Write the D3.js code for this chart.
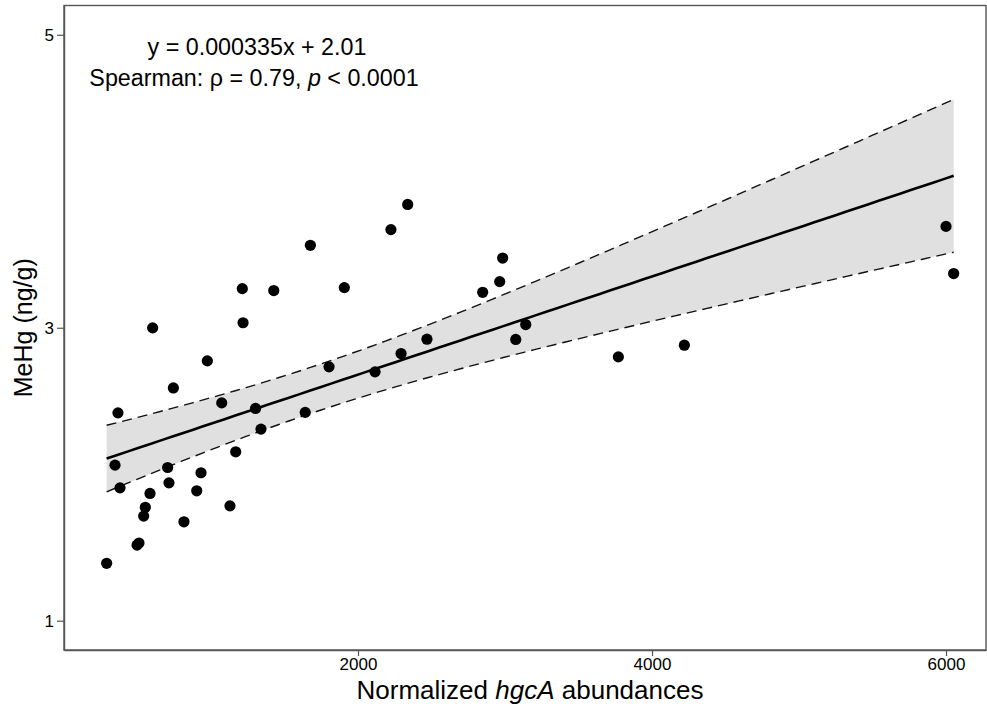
<!DOCTYPE html>
<html><head><meta charset="utf-8">
<script src="https://cdn.jsdelivr.net/npm/d3@7"></script>
<style>body{margin:0;background:#fff}svg{display:block}</style>
</head><body>
<svg id="c" width="987" height="708"></svg>
<script>
// Normalized hgcA abundances (x) and MeHg ng/g (y)
const hgcA = [290, 347, 367, 381, 497, 510, 542, 553, 585, 603,
  705, 714, 744, 816, 903, 932, 975, 1073, 1129, 1168,
  1218, 1213, 1303, 1340, 1427, 1641, 1676, 1803, 1907, 2116,
  2224, 2293, 2338, 2469, 2848, 2964, 2984, 3073, 3141, 3771,
  4220, 6000, 6052];
const mehg = [1.392, 2.062, 2.419, 1.907, 1.516, 1.530, 1.714, 1.774, 1.869, 2.999,
  2.046, 1.941, 2.589, 1.675, 1.887, 2.010, 2.774, 2.487, 1.784, 2.153,
  3.034, 3.267, 2.449, 2.308, 3.254, 2.422, 3.563, 2.733, 3.274, 2.699,
  3.670, 2.824, 3.842, 2.922, 3.242, 3.315, 3.476, 2.920, 3.022, 2.801,
  2.881, 3.692, 3.370];
const xTicks = [2000, 4000, 6000];
const yTicks = [1, 3, 5];
const fitCoef = [0.000335, 2.01]; // slope, intercept
const annotation = ["y = 0.000335x + 2.01"];
const xTitle = ["Normalized ", "hgcA", " abundances"];
const yTitle = "MeHg (ng/g)";

const svg = d3.select("#c");
const font = "'Liberation Sans', Arial, Helvetica, sans-serif";
const L = 64, R = 986, T = 5.5, B = 650;
const x = d3.scaleLinear().domain([0, 6272]).range([L, R]);
const y = d3.scaleLinear().domain([0.8, 5.2]).range([B, T]);

// regression + confidence band (95%)
const n = hgcA.length;
const xbar = d3.mean(hgcA);
const Sxx = d3.sum(hgcA, v => (v - xbar) ** 2);
const pred = v => fitCoef[0] * v + fitCoef[1];
const s = Math.sqrt(d3.sum(hgcA.map((v, i) => (mehg[i] - pred(v)) ** 2)) / (n - 2));
const tq = 2.0195;
const [xmin, xmax] = d3.extent(hgcA);
const grid = d3.range(80).map(i => xmin + (xmax - xmin) * i / 79);
const band = grid.map(v => {
  const hw = tq * s * Math.sqrt(1 / n + (v - xbar) ** 2 / Sxx);
  return {x: v, y: pred(v), lo: pred(v) - hw, hi: pred(v) + hw};
});

svg.append("path").datum(band)
  .attr("d", d3.area().x(d => x(d.x)).y0(d => y(d.lo)).y1(d => y(d.hi)))
  .attr("fill", "#e0e0e0");
["lo", "hi"].forEach(k => {
  svg.append("path").datum(band)
    .attr("d", d3.line().x(d => x(d.x)).y(d => y(d[k])))
    .attr("fill", "none").attr("stroke", "#111").attr("stroke-width", 1.4)
    .attr("stroke-dasharray", "10,6");
});
svg.append("path").datum(band)
  .attr("d", d3.line().x(d => x(d.x)).y(d => y(d.y)))
  .attr("fill", "none").attr("stroke", "#000").attr("stroke-width", 2.6);

// points
svg.append("g").selectAll("circle").data(hgcA).join("circle")
  .attr("cx", d => x(d)).attr("cy", (d, i) => y(mehg[i]))
  .attr("r", 5.6).attr("fill", "#000");

// frame
svg.append("rect").attr("x", L).attr("y", T).attr("width", R - L).attr("height", B - T)
  .attr("fill", "none").attr("stroke", "#555").attr("stroke-width", 1.4);

// axes
const xa = svg.append("g").attr("transform", `translate(0,${B})`)
  .call(d3.axisBottom(x).tickValues(xTicks).tickSize(6).tickSizeOuter(0).tickPadding(2).tickFormat(d3.format("d")));
const ya = svg.append("g").attr("transform", `translate(${L},0)`)
  .call(d3.axisLeft(y).tickValues(yTicks).tickSize(7).tickSizeOuter(0).tickPadding(3).tickFormat(d3.format("d")));
[xa, ya].forEach(g => {
  g.select(".domain").attr("stroke", "#555").attr("stroke-width", 1.4);
  g.selectAll(".tick line").attr("stroke", "#555").attr("stroke-width", 1.2);
  g.selectAll(".tick text").attr("fill", "#000").style("font-family", font).style("font-size", "17px");
});

// annotation
svg.append("text").attr("x", 257).attr("y", 55).attr("text-anchor", "middle")
  .style("font-family", font).style("font-size", "23.3px").attr("fill", "#000")
  .text(annotation[0]);
const t2 = svg.append("text").attr("x", 254).attr("y", 86).attr("text-anchor", "middle")
  .style("font-family", font).style("font-size", "23.3px").attr("fill", "#000");
t2.append("tspan").text("Spearman: \u03C1 = 0.79, ");
t2.append("tspan").style("font-style", "italic").text("p");
t2.append("tspan").text(" < 0.0001");

// axis titles
const xt = svg.append("text").attr("x", 530).attr("y", 699).attr("text-anchor", "middle")
  .style("font-family", font).style("font-size", "26px").attr("fill", "#000");
xt.append("tspan").text(xTitle[0]);
xt.append("tspan").style("font-style", "italic").text(xTitle[1]);
xt.append("tspan").text(xTitle[2]);
svg.append("text").attr("transform", `translate(32,${(T + B) / 2}) rotate(-90)`)
  .attr("text-anchor", "middle")
  .style("font-family", font).style("font-size", "25px").attr("fill", "#000")
  .text(yTitle);
</script>
</body></html>
